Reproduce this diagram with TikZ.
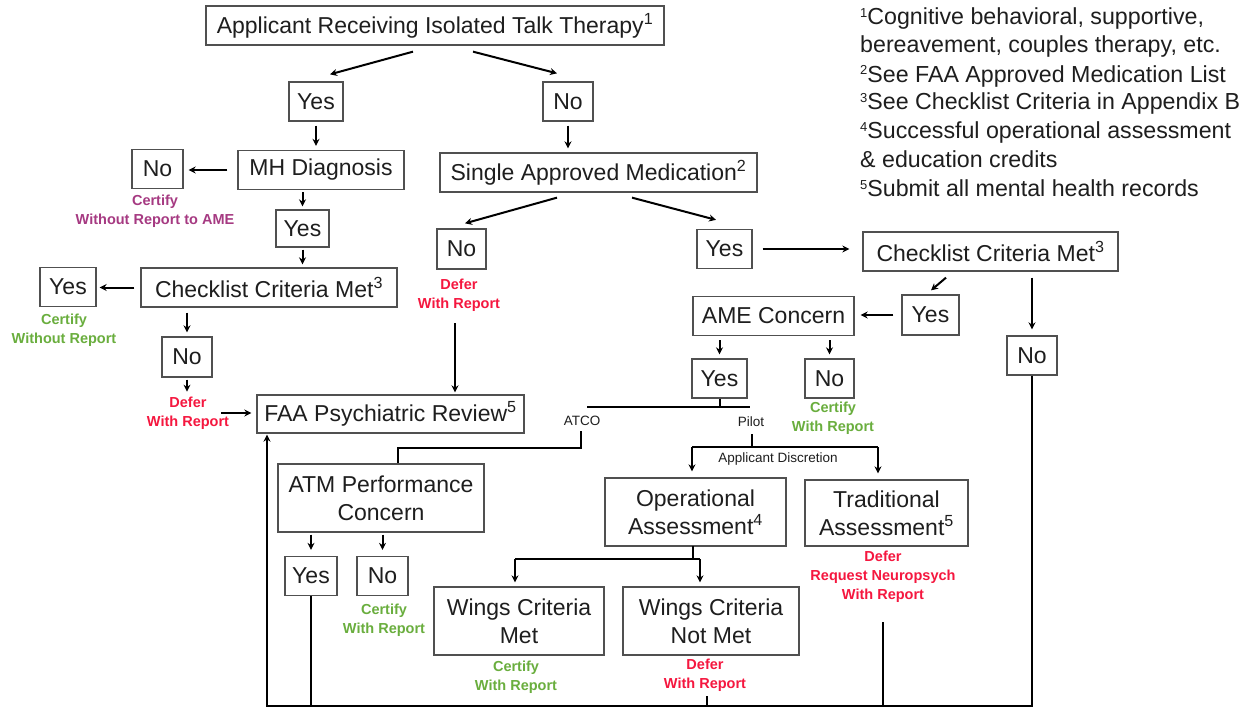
\documentclass[tikz,border=0pt]{standalone}
\usepackage{fontspec}
\setmainfont{Liberation Sans}
\usetikzlibrary{arrows.meta,calc}
\definecolor{cgreen}{HTML}{6AAE3E}
\definecolor{cred}{HTML}{F5173F}
\definecolor{cpurple}{HTML}{A63A82}
\definecolor{cborder}{HTML}{505050}
\definecolor{ctext}{HTML}{1E1E1E}
\newcommand\fnsup[1]{\raisebox{7pt}{\fontsize{13}{13}\selectfont #1}}
\begin{document}
\begin{tikzpicture}[x=1pt,y=-1pt,
  box/.style={draw=cborder,line width=1.3pt,inner sep=0pt,align=center,text=ctext,font=\fontsize{23}{28}\selectfont},
  wh/.style 2 args={minimum width=#1pt,minimum height=#2pt},
  conn/.style={line width=2pt,draw=black},
  arr/.style={conn,-{Stealth[length=7pt,width=7pt]}},
  note/.style={inner sep=0pt,align=center,font=\fontsize{14.5}{19}\selectfont\bfseries},
  tag/.style={inner sep=0pt,text=ctext,font=\fontsize{13.5}{16}\selectfont},
  fn/.style={inner sep=0pt,anchor=base west,text=ctext,font=\fontsize{23.2}{28}\selectfont}]
\useasboundingbox[fill=white] (0,0) rectangle (1254,709);

% ---------- boxes ----------
\node[box,wh={458}{39}] (top) at (435,25.5) {Applicant Receiving Isolated Talk Therapy\textsuperscript{1}};
\node[box,wh={54}{39}] (yes1) at (316,101.5) {Yes};
\node[box,wh={50}{39}] (no1) at (568,101.5) {No};
\node[box,wh={166}{39}] (mh) at (321,170) {MH Diagnosis};
\node[box,wh={51}{39}] (noL) at (157.5,169) {No};
\node[box,wh={317}{39}] (sam) at (598.5,172.5) {Single Approved Medication\textsuperscript{2}};
\node[box,wh={53}{37}] (yes2) at (302.5,228.5) {Yes};
\node[box,wh={49}{40}] (noM) at (461.5,249) {No};
\node[box,wh={55}{39}] (yesM) at (724.5,249) {Yes};
\node[box,wh={255}{39}] (ccR) at (990.5,251.5) {Checklist Criteria Met\textsuperscript{3}};
\node[box,wh={256}{39}] (ccL) at (269,287.5) {Checklist Criteria Met\textsuperscript{3}};
\node[box,wh={56}{39}] (yesL) at (68,287) {Yes};
\node[box,wh={57}{40}] (yesR2) at (930.5,315) {Yes};
\node[box,wh={161}{39}] (ame) at (773.5,316) {AME Concern};
\node[box,wh={50}{39}] (noR) at (1032,355.5) {No};
\node[box,wh={50}{40}] (noC) at (187,357) {No};
\node[box,wh={55}{39}] (yesA) at (719.5,378.5) {Yes};
\node[box,wh={49}{39}] (noA) at (829.5,378.5) {No};
\node[box,wh={267}{38}] (faa) at (390.5,414) {FAA Psychiatric Review\textsuperscript{5}};
\node[box,wh={206}{68}] (atm) at (381,498) {ATM Performance\\Concern};
\node[box,wh={181}{68}] (op) at (695.5,512) {Operational\\Assessment\textsuperscript{4}};
\node[box,wh={163}{66}] (trad) at (886.5,513) {Traditional\\Assessment\textsuperscript{5}};
\node[box,wh={52}{39}] (yesT) at (311,576) {Yes};
\node[box,wh={51}{39}] (noT) at (382.5,576) {No};
\node[box,wh={170}{68}] (wm) at (519,621) {Wings Criteria\\Met};
\node[box,wh={176}{68}] (wnm) at (711,621) {Wings Criteria\\Not Met};

% ---------- outcome notes ----------
\node[note,text=cpurple] (nNoL) at (155,211) {Certify\\Without Report to AME};
\node[note,text=cgreen] (nYesL) at (64,330) {Certify\\Without Report};
\node[note,text=cred] (nNoM) at (459,295) {Defer\\With Report};
\node[note,text=cred] (nNoC) at (188,413.5) {Defer\\With Report};
\node[note,text=cgreen] (nNoA) at (833,418) {Certify\\With Report};
\node[note,text=cred] (nTrad) at (883,577) {Defer\\Request Neuropsych\\With Report};
\node[note,text=cgreen] (nNoT) at (384,620) {Certify\\With Report};
\node[note,text=cgreen] (nWm) at (516,677.5) {Certify\\With Report};
\node[note,text=cred] (nWnm) at (705,675) {Defer\\With Report};

% ---------- small tags ----------
\node[tag] (atco) at (582,421) {ATCO};
\node[tag] (pilot) at (751,422) {Pilot};
\node[tag] (disc) at (778,459) {Applicant Discretion};

% ---------- footnotes ----------
\node[fn] (fn1) at (860,25) {\fnsup{1}Cognitive behavioral, supportive,};
\node[fn] (fn2) at (860,53) {bereavement, couples therapy, etc.};
\node[fn] (fn3) at (860,82) {\fnsup{2}See FAA Approved Medication List};
\node[fn] (fn4) at (860,110) {\fnsup{3}See Checklist Criteria in Appendix B};
\node[fn] (fn5) at (860,139) {\fnsup{4}Successful operational assessment};
\node[fn] (fn6) at (860,167) {\& education credits};
\node[fn] (fn7) at (860,196) {\fnsup{5}Submit all mental health records};

% ---------- helper coordinates ----------
\coordinate (hA) at (587,407);
\coordinate (hB) at (750,407);
\coordinate (atcoT) at (581,431);
\coordinate (atcoK) at (398,448);
\coordinate (pilT) at (752,434);
\coordinate (dL) at (692,447);
\coordinate (dR) at (878,447);
\coordinate (opT) at (693,546);
\coordinate (wL) at (515,559);
\coordinate (wR) at (700,559);
\coordinate (tradT) at (883,622);
\coordinate (wnmT) at (707,696);
\coordinate (bl) at (267,706);

% ---------- connectors ----------
\draw[arr] ($(top.south)+(-22,6)$) -- ($(yes1.north)+(14,-7)$);
\draw[arr] ($(top.south)+(38,6)$) -- ($(no1.north)+(-11,-8)$);
\draw[arr,shorten <=4pt,shorten >=4pt] (yes1.south) -- (yes1.south |- mh.north);
\draw[arr,shorten <=4pt,shorten >=4pt] (no1.south) -- (no1.south |- sam.north);
\draw[arr,shorten <=10pt,shorten >=5pt] (mh.west) -- (mh.west -| noL.east);
\draw[arr,shorten <=2pt,shorten >=3pt] (yes2.north |- mh.south) -- (yes2.north);
\draw[arr,shorten <=2pt,shorten >=3pt] (yes2.south) -- (yes2.south |- ccL.north);
\draw[arr,shorten <=6pt,shorten >=3pt] (ccL.west) -- (ccL.west -| yesL.east);
\draw[arr,shorten <=5pt,shorten >=4pt] (noC.north |- ccL.south) -- (noC.north);
\draw[arr,shorten <=2pt] (noC.south) -- ($(noC.south)+(0,14)$);
\draw[arr] ($(faa.west)+(-35,-1)$) -- ($(faa.west)+(-5,-1)$);
\draw[arr] ($(sam.south)+(-41.5,5)$) -- ($(noM.north)+(3.5,-5)$);
\draw[arr] ($(sam.south)+(33.5,5)$) -- ($(yesM.north)+(-8.5,-9)$);
\draw[arr] ($(nNoM.south)+(-4,12)$) -- ($(faa.north)+(64.5,-2)$);
\draw[arr,shorten <=10pt,shorten >=13pt] (yesM.east) -- (yesM.east -| ccR.west);
\draw[arr] ($(ccR.south)+(-44.5,6)$) -- ($(yesR2.north)+(0.5,-4)$);
\draw[arr,shorten <=8pt,shorten >=6pt] (yesR2.west) -- (yesR2.west -| ame.east);
\draw[arr,shorten <=6pt,shorten >=6pt] (noR.north |- ccR.south) -- (noR.north);
\draw[arr,shorten <=4pt,shorten >=4pt] (yesA.north |- ame.south) -- (yesA.north);
\draw[arr,shorten <=4pt,shorten >=4pt] (noA.north |- ame.south) -- (noA.north);

% AME yes -> ATCO / Pilot split
\draw[conn] (yesA.south) -- (yesA.south |- hA);
\draw[conn] (hA) -- (hB);
\draw[conn] (atcoT) |- (atcoK) -- (atcoK |- atm.north);
\draw[conn] (pilT) -- (pilT |- dL);
\draw[conn] (dL) -- (dR);
\draw[arr,shorten >=6pt] (dL) -- (dL |- op.north);
\draw[arr,shorten >=6pt] (dR) -- (dR |- trad.north);

% ATM concern
\draw[arr,shorten <=2pt,shorten >=6pt] (yesT.north |- atm.south) -- (yesT.north);
\draw[arr,shorten <=2pt,shorten >=6pt] (noT.north |- atm.south) -- (noT.north);

% operational assessment
\draw[conn] (opT) -- (opT |- wL);
\draw[conn] (wL) -- (wR);
\draw[arr,shorten >=4pt] (wL) -- (wL |- wm.north);
\draw[arr,shorten >=4pt] (wR) -- (wR |- wnm.north);

% return lines to FAA review
\draw[conn] (yesT.south) -- (yesT.south |- bl);
\draw[conn] (wnmT) -- (wnmT |- bl);
\draw[conn] (tradT) -- (tradT |- bl);
\draw[arr,shorten >=1pt] (noR.south) |- (bl) -- (bl |- faa.south);
\end{tikzpicture}
\end{document}
